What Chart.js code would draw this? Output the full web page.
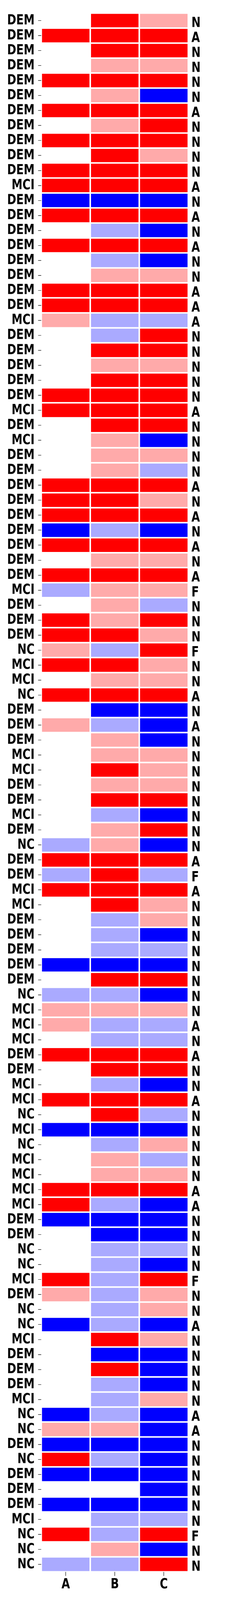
<!DOCTYPE html>
<html>
<head>
<meta charset="utf-8">
<script src="https://cdn.jsdelivr.net/npm/chart.js@4.4.1/dist/chart.umd.min.js"></script>
<style>
  html, body { margin: 0; padding: 0; background: #fff; }
  #page { width: 645px; height: 4097px; position: relative; overflow: hidden; }
  /* the reference picture is stretched vertically, so the chart is too */
  #wrap { position: absolute; left: 0; top: 0; width: 645px; height: 3152px;
          transform: scaleY(1.29981); transform-origin: 0 0; }
</style>
</head>
<body>
<div id="page"><div id="wrap"><canvas id="heat" width="645" height="3152"></canvas></div></div>
<script>
// Row groups (left labels), top to bottom
const groups = [
  "DEM","DEM","DEM","DEM","DEM","DEM","DEM","DEM","DEM","DEM",
  "DEM","MCI","DEM","DEM","DEM","DEM","DEM","DEM","DEM","DEM",
  "MCI","DEM","DEM","DEM","DEM","DEM","MCI","DEM","MCI","DEM",
  "DEM","DEM","DEM","DEM","DEM","DEM","DEM","DEM","MCI","DEM",
  "DEM","DEM","NC","MCI","MCI","NC","DEM","DEM","DEM","MCI",
  "MCI","DEM","DEM","MCI","DEM","NC","DEM","DEM","MCI","MCI",
  "DEM","DEM","DEM","DEM","DEM","NC","MCI","MCI","MCI","DEM",
  "DEM","MCI","MCI","NC","MCI","NC","MCI","MCI","MCI","MCI",
  "DEM","DEM","NC","NC","MCI","DEM","NC","NC","MCI","DEM",
  "DEM","DEM","MCI","NC","NC","DEM","NC","DEM","DEM","DEM",
  "MCI","NC","NC","NC"
];

// Right labels
const diag = [
  "N","A","N","N","N","N","A","N","N","N",
  "N","A","N","A","N","A","N","N","A","A",
  "A","N","N","N","N","N","A","N","N","N",
  "N","A","N","A","N","A","N","A","F","N",
  "N","N","F","N","N","A","N","A","N","N",
  "N","N","N","N","N","N","A","F","A","N",
  "N","N","N","N","N","N","N","A","N","A",
  "N","N","A","N","N","N","N","N","A","A",
  "N","N","N","N","F","N","N","A","N","N",
  "N","N","N","A","A","N","N","N","N","N",
  "N","F","N","N"
];

const columns = ["A", "B", "C"];

// Cell levels: 2 strong red, 1 light red, 0 white, -1 light blue, -2 strong blue
const colA = [
  0, 2, 0, 0, 2, 0, 2, 0, 2, 0,
  2, 2, -2, 2, 0, 2, 0, 0, 2, 2,
  1, 0, 0, 0, 0, 2, 2, 0, 0, 0,
  0, 2, 2, 2, -2, 2, 0, 2, -1, 0,
  2, 2, 1, 2, 0, 2, 0, 1, 0, 0,
  0, 0, 0, 0, 0, -1, 2, -1, 2, 0,
  0, 0, 0, -2, 0, -1, 1, 1, 0, 2,
  0, 0, 2, 0, -2, 0, 0, 0, 2, 2,
  -2, 0, 0, 0, 2, 1, 0, -2, 0, 0,
  0, 0, 0, -2, 1, -2, 2, -2, 0, -2,
  0, 2, 0, -1
];
const colB = [
  2, 2, 2, 1, 2, 1, 2, 1, 2, 2,
  2, 2, -2, 2, -1, 2, -1, 1, 2, 2,
  -1, -1, 2, 1, 2, 2, 2, 2, 1, 1,
  1, 2, 2, 2, -1, 2, 1, 2, 1, 1,
  1, 2, -1, 2, 1, 2, -2, -1, 1, 1,
  2, 1, 2, -1, 1, 1, 2, 2, 2, 2,
  -1, -1, -1, -2, 2, -1, 1, -1, -1, 2,
  2, -1, 2, 2, -2, -1, 1, 1, 2, -1,
  -2, -2, -1, -1, -1, -1, -1, -1, 2, -2,
  2, -1, -1, -1, 1, -2, -1, -2, 0, -2,
  -1, -1, 1, -1
];
const colC = [
  1, 2, 2, 1, 2, -2, 2, 2, 2, 1,
  2, 2, -2, 2, -2, 2, -2, 1, 2, 2,
  -1, 2, 2, 1, 2, 2, 2, 2, -2, 1,
  -1, 2, 1, 2, -2, 2, 1, 2, 1, -1,
  2, 1, 2, 1, 1, 2, -2, -2, -2, 1,
  1, 1, 2, -2, 2, -2, 2, -1, 2, 1,
  1, -2, -1, -2, 2, -2, 1, -1, -1, 2,
  2, -2, 2, -1, -2, 1, -1, 1, 2, -2,
  -2, -2, -1, -2, 2, 1, 1, -2, 1, -2,
  -2, -2, 1, -2, -2, -2, -2, -2, -2, -2,
  -1, 2, -2, 2
];

const levelColors = {
  "2": "#ff0000",
  "1": "#ffaaaa",
  "0": "#ffffff",
  "-1": "#aaaaff",
  "-2": "#0000ff",
};

const tickFont = { family: "'DejaVu Sans', sans-serif", size: 28, weight: "bold" };

// each column is one stacked segment of unit width per row
const datasets = [colA, colB, colC].map((vals, i) => ({
  label: columns[i],
  data: vals.map(() => 1),
  backgroundColor: vals.map(v => levelColors[v]),
  borderColor: "#ffffff",
  borderWidth: { top: 1.5, bottom: 1.5, left: 2, right: 2 },
  borderSkipped: false,
  barPercentage: 1,
  categoryPercentage: 1,
  inflateAmount: 0,
}));

new Chart(document.getElementById("heat"), {
  type: "bar",
  data: { labels: groups, datasets },
  options: {
    indexAxis: "y",
    responsive: false,
    animation: false,
    devicePixelRatio: 2,
    layout: { padding: { top: 15.4, bottom: 0, left: 0, right: 0 } },
    plugins: { legend: { display: false }, tooltip: { enabled: false } },
    scales: {
      x: {
        type: "linear",
        position: "bottom",
        min: 0,
        max: 3,
        stacked: true,
        afterBuildTicks: (s) => { s.ticks = columns.map((_, i) => ({ value: i + 0.5 })); },
        afterFit: (s) => { s.height = 56.2; },
        grid: { drawOnChartArea: false, drawTicks: true, tickLength: 8, color: "#222", lineWidth: 1.3 },
        border: { display: false },
        ticks: {
          padding: 0,
          maxRotation: 0,
          font: tickFont,
          color: "#000",
          callback: (v) => columns[Math.floor(v)],
        },
      },
      y: {
        type: "category",
        position: "left",
        stacked: true,
        offset: true,
        afterFit: (s) => { s.width = 105.5; },
        grid: { offset: false, drawOnChartArea: false, drawTicks: true, tickLength: 8, color: "#222", lineWidth: 1 },
        border: { display: false },
        ticks: { autoSkip: false, padding: 9, font: tickFont, color: "#000" },
      },
      y2: {
        type: "category",
        position: "right",
        labels: diag,
        offset: true,
        afterFit: (s) => { s.width = 163; },
        grid: { display: false },
        border: { display: false },
        ticks: { autoSkip: false, padding: 0, labelOffset: 5, font: tickFont, color: "#000" },
      },
    },
  },
});
</script>
</body>
</html>
